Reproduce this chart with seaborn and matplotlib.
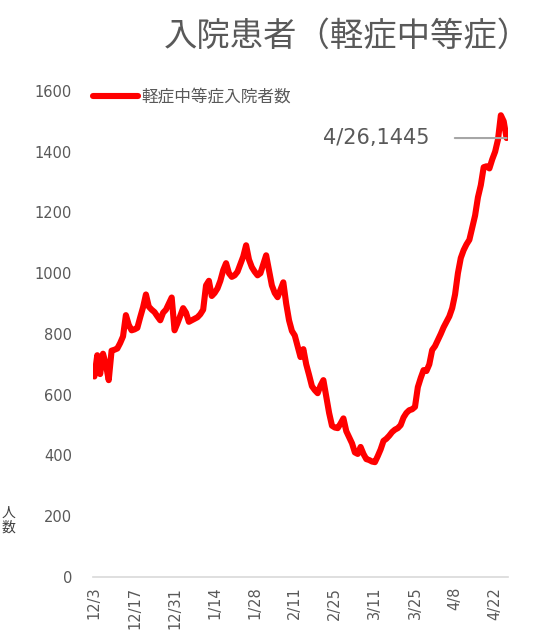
import pandas as pd
import seaborn as sns
import matplotlib.pyplot as plt

# 日別の軽症中等症入院者数 (12/3 - 4/26)
dates = pd.date_range('2020-12-03', '2021-04-26')
patients = [
    660, 730, 668, 735, 700, 648, 745, 748, 752, 770,
    792, 862, 830, 812, 815, 820, 855, 888, 930, 890,
    880, 872, 858, 845, 870, 880, 900, 920, 812, 835,
    860, 885, 870, 840, 845, 850, 855, 865, 880, 960,
    975, 925, 935, 950, 975, 1010, 1033, 1000, 988, 993,
    1005, 1030, 1055, 1092, 1045, 1020, 1005, 993, 1000, 1030,
    1059, 1010, 960, 935, 921, 945, 970, 900, 845, 810,
    795, 760, 724, 750, 700, 665, 628, 615, 605, 630,
    648, 595, 540, 498, 492, 490, 505, 522, 480, 460,
    440, 410, 405, 428, 405, 388, 385, 380, 378, 398,
    420, 448, 455, 465, 477, 485, 490, 500, 525, 540,
    549, 552, 560, 625, 655, 681, 678, 700, 747, 760,
    780, 800, 822, 840, 858, 885, 930, 1000, 1050, 1076,
    1095, 1110, 1150, 1190, 1250, 1290, 1349, 1352, 1345, 1375,
    1400, 1440, 1520, 1500, 1445,
]
tick_labels = ['12/3', '12/17', '12/31', '1/14', '1/28', '2/11',
               '2/25', '3/11', '3/25', '4/8', '4/22']
y_ticks = [0, 200, 400, 600, 800, 1000, 1200, 1400, 1600]
series_name = '軽症中等症入院者数'

df = pd.DataFrame({'日付': dates, series_name: patients})

sns.set_style('white')
plt.rcParams['font.family'] = ['Noto Sans CJK JP', 'DejaVu Sans']

gray = '#595959'
num_font = ['DejaVu Sans']
fig = plt.figure(figsize=(5.39, 6.36), dpi=100)
ax = fig.add_axes([0.1725, 0.0928, 0.77, 0.7642])

sns.lineplot(data=df, x='日付', y=series_name, color='#ff0000',
             linewidth=4.4, label=series_name, ax=ax)

ax.set_ylim(0, 1600)
ax.set_yticks(y_ticks)
ax.set_yticklabels([str(v) for v in y_ticks], family=num_font)
ax.set_xlim(dates[0] - pd.Timedelta(hours=12), dates[-1] + pd.Timedelta(hours=12))
ax.set_xticks(dates[::14])
ax.set_xticklabels(tick_labels, rotation=90, family=num_font)
ax.set_xlabel('')
ax.set_ylabel('')

ax.tick_params(axis='y', length=0, pad=15, labelsize=10.5, labelcolor=gray)
ax.tick_params(axis='x', length=0, pad=7, labelsize=10.5, labelcolor=gray)
for side in ['top', 'right', 'left']:
    ax.spines[side].set_visible(False)
ax.spines['bottom'].set_color('#d9d9d9')
ax.spines['bottom'].set_linewidth(1.2)

leg = ax.legend(loc='upper left', bbox_to_anchor=(-0.035, 1.035), frameon=False,
                handlelength=2.7, handletextpad=0.2, fontsize=12)
for t in leg.get_texts():
    t.set_color(gray)

ax.annotate('4/26,1445', xy=(dates[-1], patients[-1]),
            xytext=(dates[-1] - pd.Timedelta(days=27), patients[-1]),
            ha='right', va='center', fontsize=15, color=gray, family=num_font,
            arrowprops=dict(arrowstyle='-', color='#a6a6a6', lw=1.5,
                            shrinkA=16, shrinkB=0))

fig.text(0.645, 0.943, '入院患者（軽症中等症）', ha='center', va='center',
         fontsize=24, color=gray)
fig.text(0.002, 0.182, '人\n数', ha='left', va='center', fontsize=10,
         color='#404040', linespacing=1.0)

fig.savefig('out.png', dpi=100)
